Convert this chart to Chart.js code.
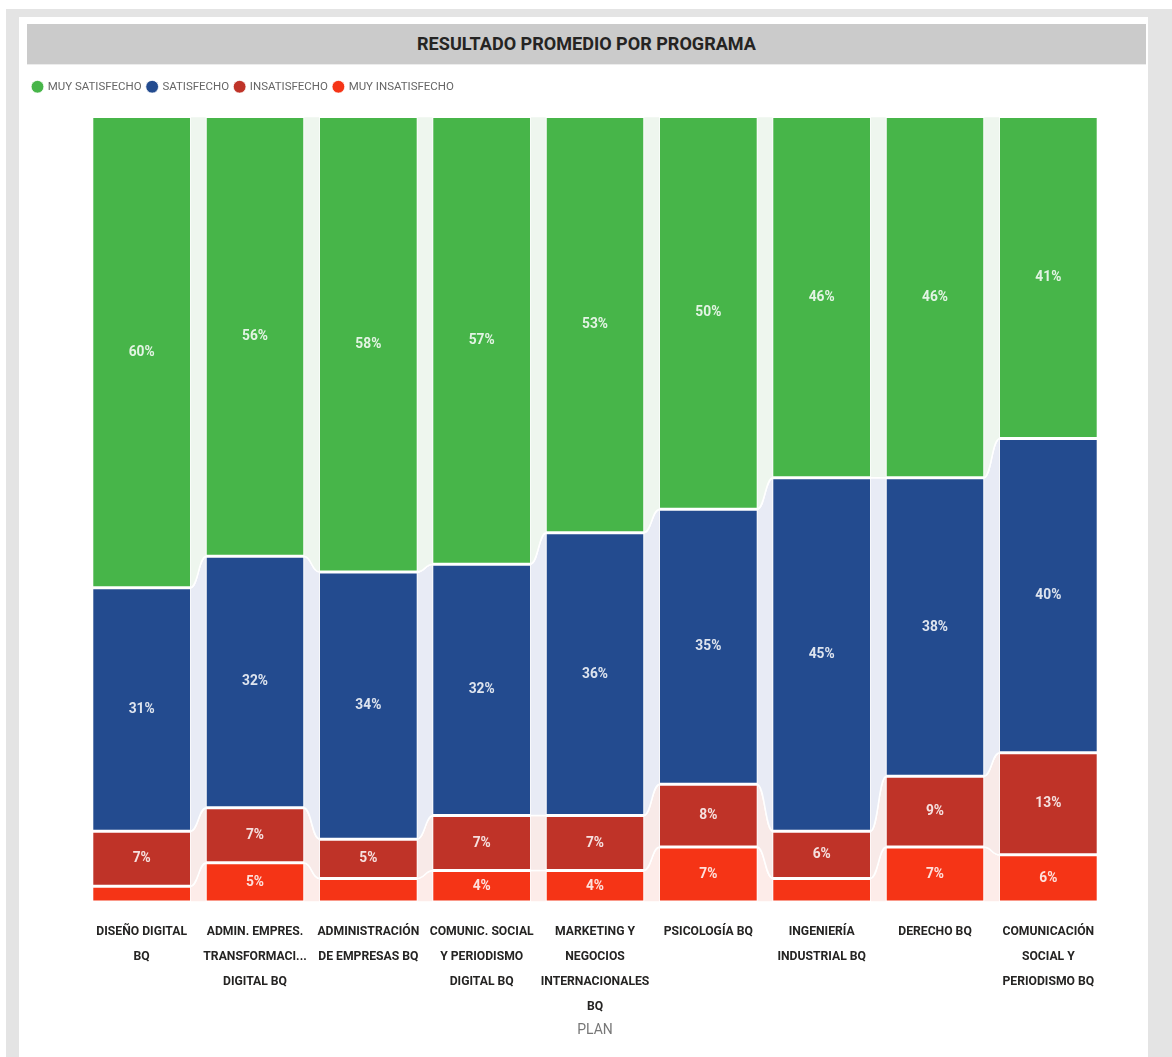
<!DOCTYPE html>
<html>
<head>
<meta charset="utf-8">
<script src="https://cdn.jsdelivr.net/npm/chart.js@4.4.0/dist/chart.umd.min.js"></script>
<style>
  body { margin: 0; background: #fff; font-family: Roboto, sans-serif; }
  .frame { position: absolute; left: 6px; top: 9px; width: 1166px; height: 1048px; background: #e4e4e4; }
  .panel { position: absolute; left: 19px; top: 17px; width: 1129px; height: 1040px; background: #fff; }
  .title { position: absolute; left: 8px; top: 7px; width: 1119px; height: 40px; background: #cbcbcb;
           border-bottom: 1px solid #ececec;
           font-weight: bold; font-size: 18px; color: #252423; text-align: center; line-height: 40px; }
  .chartBox { position: absolute; left: 0; top: 49px; width: 1129px; height: 991px; }
</style>
</head>
<body>
<div class="frame"></div>
<div class="panel">
  <div class="title" id="titulo">RESULTADO PROMEDIO POR PROGRAMA</div>
  <div class="chartBox"><canvas id="barChart"></canvas></div>
</div>
<script>
var FONT = "Roboto, sans-serif";

// programas (eje x)
var programas = [
  ["DISEÑO DIGITAL", "BQ"],
  ["ADMIN. EMPRES.", "TRANSFORMACI...", "DIGITAL BQ"],
  ["ADMINISTRACIÓN", "DE EMPRESAS BQ"],
  ["COMUNIC. SOCIAL", "Y PERIODISMO", "DIGITAL BQ"],
  ["MARKETING Y", "NEGOCIOS", "INTERNACIONALES", "BQ"],
  ["PSICOLOGÍA BQ"],
  ["INGENIERÍA", "INDUSTRIAL BQ"],
  ["DERECHO BQ"],
  ["COMUNICACIÓN", "SOCIAL Y", "PERIODISMO BQ"]
];

// porcentajes por nivel
var muySatisfecho   = [60, 56, 58, 57, 53, 50, 46, 46, 41];
var satisfecho      = [31, 32, 34, 32, 36, 35, 45, 38, 40];
var insatisfecho    = [7, 7, 5, 7, 7, 8, 6, 9, 13];
var muyInsatisfecho = [2, 5, 3, 4, 4, 7, 3, 7, 6];

// the narrow font of the original is not installed, so shrink Roboto to the same widths
var mctx = document.createElement("canvas").getContext("2d");
function fitSize(text, weight, target, max) {
  mctx.font = weight + " 100px " + FONT;
  return Math.min(max, 100 * target / mctx.measureText(text).width);
}
var tickSize = fitSize("ADMINISTRACIÓN", "bold", 102, 14);
var legendSize = fitSize("MUY SATISFECHO", "normal", 94, 13);
var labelSize = fitSize("60%", "bold", 26, 14);
document.getElementById("titulo").style.fontSize = fitSize("RESULTADO PROMEDIO POR PROGRAMA", "bold", 339, 21) + "px";

// cintas entre barras (estilo ribbon)
var ribbons = {
  id: "ribbons",
  beforeDatasetsDraw(chart) {
    var ctx = chart.ctx;
    chart.data.datasets.forEach((ds, i) => {
      var meta = chart.getDatasetMeta(i);
      for (let j = 0; j < meta.data.length - 1; j++) {
        var a = meta.data[j], b = meta.data[j + 1];
        var x0 = a.x + a.width / 2, x1 = b.x - b.width / 2, xm = (x0 + x1) / 2;
        ctx.save();
        ctx.beginPath();
        ctx.moveTo(x0, a.y);
        ctx.bezierCurveTo(xm, a.y, xm, b.y, x1, b.y);
        ctx.lineTo(x1, b.base);
        ctx.bezierCurveTo(xm, b.base, xm, a.base, x0, a.base);
        ctx.closePath();
        ctx.fillStyle = ds.ribbonColor;
        ctx.fill();
        ctx.strokeStyle = "#ffffff";
        ctx.lineWidth = 1.5;
        ctx.stroke();
        ctx.restore();
      }
    });
  }
};

// etiquetas de porcentaje dentro de las barras
var etiquetas = {
  id: "etiquetas",
  afterDatasetsDraw(chart) {
    var ctx = chart.ctx;
    ctx.save();
    ctx.font = "bold " + labelSize + "px " + FONT;
    ctx.fillStyle = "rgba(255,255,255,0.85)";
    ctx.textAlign = "center";
    ctx.textBaseline = "middle";
    chart.data.datasets.forEach((ds, i) => {
      chart.getDatasetMeta(i).data.forEach((bar, j) => {
        var v = ds.data[j];
        if (v < 4) return;
        ctx.fillText(v + "%", bar.x, (bar.y + bar.base) / 2);
      });
    });
    ctx.restore();
  }
};

// espacio extra bajo la leyenda
var legendMargin = {
  id: "legendMargin",
  beforeInit(chart) {
    var fit = chart.legend.fit;
    chart.legend.fit = function () {
      fit.bind(chart.legend)();
      this.height += 14;
    };
  }
};

function serie(label, data, color, ribbon) {
  return {
    label: label,
    data: data,
    backgroundColor: color,
    ribbonColor: ribbon,
    borderColor: "#ffffff",
    borderWidth: { top: 1.5, bottom: 1.5, left: 0, right: 0 },
    borderSkipped: false,
    barPercentage: 0.856,
    categoryPercentage: 1
  };
}

new Chart("barChart", {
  type: "bar",
  data: {
    labels: programas,
    // stacked bottom-up: the green series ends on top
    datasets: [
      serie("MUY INSATISFECHO", muyInsatisfecho, "#f53416", "#fdece9"),
      serie("INSATISFECHO", insatisfecho, "#bf3328", "#f8eae8"),
      serie("SATISFECHO", satisfecho, "#234b8f", "#e8ebf5"),
      serie("MUY SATISFECHO", muySatisfecho, "#47b549", "#eef6ee")
    ]
  },
  plugins: [ribbons, etiquetas, legendMargin],
  options: {
    responsive: true,
    maintainAspectRatio: false,
    animation: false,
    layout: { padding: { left: 8, right: 43, top: 9, bottom: 18 } },
    plugins: {
      legend: {
        display: true,
        position: "top",
        align: "start",
        reverse: true,
        labels: {
          usePointStyle: true,
          pointStyle: "circle",
          boxWidth: 9,
          boxHeight: 9,
          padding: 6,
          color: "#666666",
          font: { family: FONT, size: legendSize }
        }
      },
      title: { display: false },
      tooltip: { enabled: false }
    },
    scales: {
      x: {
        stacked: true,
        grid: { display: false, drawTicks: false },
        border: { display: false },
        afterFit: (s) => { s.height = 137; },
        ticks: {
          color: "#252423",
          padding: 17,
          maxRotation: 0,
          autoSkip: false,
          font: { family: FONT, size: tickSize, weight: "bold", lineHeight: "25px" }
        },
        title: {
          display: true,
          text: "PLAN",
          color: "#777777",
          padding: { top: 0, bottom: 0 },
          font: { family: FONT, size: 14 }
        }
      },
      y: {
        stacked: true,
        min: 0,
        max: 100,
        grid: { display: false, drawTicks: false },
        border: { display: false },
        ticks: { display: false },
        afterFit: (s) => { s.width = 58; }
      }
    }
  }
});
</script>
</body>
</html>
